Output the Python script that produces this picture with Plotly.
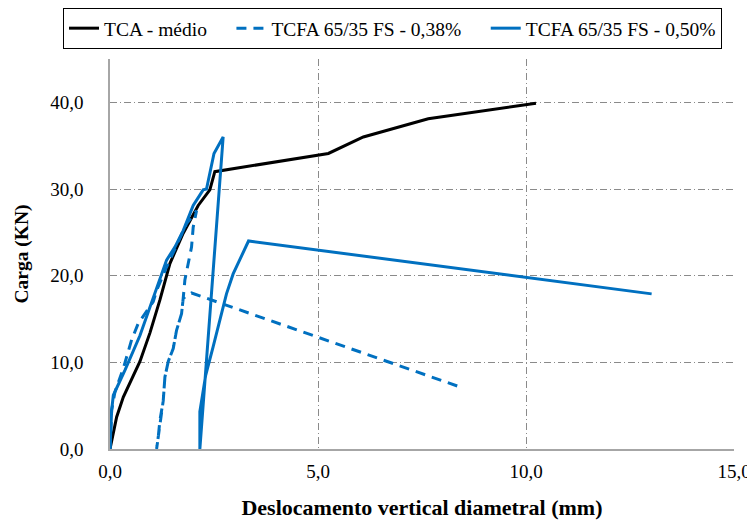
import plotly.graph_objects as go

# TCA - médio
tca_x = [0, 0.16, 0.32, 0.72, 0.96, 1.2, 1.44, 1.76, 2.12, 2.40, 2.52, 5.25, 6.09, 7.65, 10.24]
tca_y = [0, 3.7, 6.0, 10.1, 13.4, 17.2, 21.4, 24.9, 28.1, 29.9, 32.0, 34.1, 36.0, 38.1, 39.9]

# TCFA 65/35 FS - 0,38%
fs38_x = [0, 0.04, 0.12, 0.32, 0.52, 0.68, 1.04, 1.12, 1.36, 1.6, 1.84, 2.08,
          2.0, 1.96, 1.88, 1.8, 1.76, 1.72, 1.6, 1.52, 1.4, 1.32, 1.28, 1.2, 1.16, 1.12,
          1.16, 1.2, 1.28, 1.32, 1.4, 1.52, 1.6, 1.72, 1.76, 1.96, 5.0, 8.45]
fs38_y = [0, 4.5, 6.6, 9.3, 12.6, 14.5, 17.0, 18.3, 21.0, 23.5, 26.0, 27.5,
          25.6, 23.3, 21.4, 19.5, 17.4, 15.6, 13.7, 11.6, 10.1, 8.3, 5.6, 3.3, 1.4, 0,
          1.4, 3.3, 5.6, 8.3, 10.1, 11.6, 13.7, 15.6, 17.4, 18.0, 12.9, 7.1]

# TCFA 65/35 FS - 0,50%
fs50_x = [0, 0.04, 0.08, 0.36, 0.72, 1.08, 1.36, 1.56, 1.76, 2.0, 2.24, 2.32, 2.5, 2.72,
          2.16, 2.16, 2.3, 2.48, 2.8, 2.96, 3.33, 13.02]
fs50_y = [0, 4.5, 6.2, 9.1, 13.1, 18.0, 21.8, 23.3, 25.2, 28.1, 29.9, 30.0, 34.1, 36.0,
          0, 4.3, 8.5, 11.8, 17.9, 20.2, 24.0, 17.9]

series_names = ["TCA - médio", "TCFA 65/35 FS - 0,38%", "TCFA 65/35 FS - 0,50%"]
x_ticks = [0, 5, 10, 15]
y_ticks = [0, 10, 20, 30, 40]

BLUE = "#0070C0"
FONT = "Liberation Serif"
PAD = "\u00a0" * 4

fig = go.Figure()
fig.add_trace(go.Scatter(x=tca_x, y=tca_y, mode="lines", name=series_names[0] + PAD,
                         line=dict(color="black", width=3)))
fig.add_trace(go.Scatter(x=fs38_x, y=fs38_y, mode="lines", name=series_names[1] + PAD,
                         line=dict(color=BLUE, width=3, dash="10px,7px")))
fig.add_trace(go.Scatter(x=fs50_x, y=fs50_y, mode="lines", name=series_names[2],
                         line=dict(color=BLUE, width=3)))

grid = dict(showgrid=True, gridcolor="#8a8a8a", gridwidth=1, griddash="7px,3px,1px,3px",
            zeroline=False, showline=True, linecolor="#a6a6a6", linewidth=1.5,
            ticks="", tickfont=dict(family=FONT, size=19, color="black"),
            tickformat=".1f")

fig.update_xaxes(range=[0, 15], tickvals=x_ticks, ticklabelstandoff=4,
                 title=dict(text="<b>Deslocamento vertical diametral (mm)</b>",
                            font=dict(family=FONT, size=22, color="black"), standoff=19),
                 **grid)
fig.update_yaxes(range=[0, 45], tickvals=y_ticks, ticklabelstandoff=21,
                 title=dict(text="<b>Carga (KN)</b>",
                            font=dict(family=FONT, size=19.5, color="black"), standoff=16),
                 **grid)

fig.update_layout(
    width=747, height=513,
    margin=dict(l=102, r=21, t=51, b=72, autoexpand=False),
    plot_bgcolor="white", paper_bgcolor="white",
    separators=",.",
    font=dict(family=FONT, color="black"),
    showlegend=True,
    legend=dict(orientation="h", x=-0.0753, xanchor="left", y=1.1308, yanchor="top",
                bordercolor="black", borderwidth=1, bgcolor="white",
                font=dict(family=FONT, size=19.5, color="black")),
)

fig.write_html("out.html")
